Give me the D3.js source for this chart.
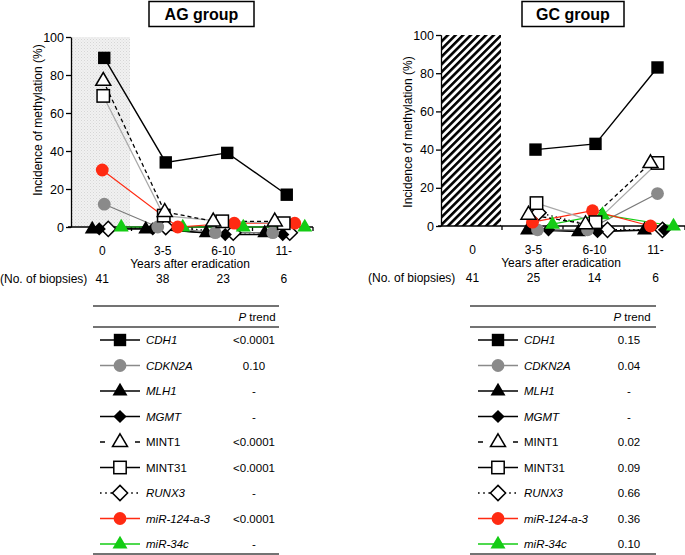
<!DOCTYPE html>
<html><head><meta charset="utf-8">
<script src="https://cdn.jsdelivr.net/npm/d3@7"></script>
<style>
body{margin:0;background:#fff;}
svg{font-family:"Liberation Sans",Arial,Helvetica,sans-serif;}
</style></head>
<body><svg id="c" width="685" height="555"></svg>
<script>
// ---------- DATA ----------
const categories = ["0", "3-5", "6-10", "11-"];
const biopsiesAG = [41, 38, 23, 6];
const biopsiesGC = [41, 25, 14, 6];
const yTicks = [0, 20, 40, 60, 80, 100];
const seriesNames = ["CDH1", "CDKN2A", "MLH1", "MGMT", "MINT1", "MINT31", "RUNX3", "miR-124-a-3", "miR-34c"];

// AG group: incidence of methylation (%) (zeros drawn where they sit)
const agCDH1   = [89, 34, 39, 17];
const agCDKN2A = [12, 0, -3, -3];
const agMLH1   = [-1, -1, -3, -3];
const agMGMT   = [-1, -1, -4, -4];
const agMINT1  = [77, 8, 3, 3];
const agMINT31 = [69, 6, 3, 2];
const agRUNX3  = [-1, 0, -3, -3];
const agMiR124 = [30, 0, 2, 2];
const agMiR34c = [0, 0, 0, 0];

// GC group (no data at year 0)
const gcCDH1   = [null, 40, 43, 83];
const gcCDKN2A = [null, -2, -2, 17];
const gcMLH1   = [null, -2, -3, -2];
const gcMGMT   = [null, -2, -3, -2];
const gcMINT1  = [null, 6, 1, 33];
const gcMINT31 = [null, 12, 2, 33];
const gcRUNX3  = [null, 7, -2, -2];
const gcMiR124 = [null, 2, 8, 0];
const gcMiR34c = [null, 1, 6, 0];

const pTrendAG = ["<0.0001", "0.10", "-", "-", "<0.0001", "<0.0001", "-", "<0.0001", "-"];
const pTrendGC = ["0.15", "0.04", "-", "-", "0.02", "0.09", "0.66", "0.36", "0.10"];

// ---------- STYLES / LAYOUT ----------
const RED = "#ff2a12", GREEN = "#14cc14";
const styles = {
  "CDH1":        {shape:"square",   fill:"#000", stroke:"none", line:"#000", legendLine:"#000", dash:null, lw:1.4, italic:true},
  "CDKN2A":      {shape:"circle",   fill:"#8a8a8a", stroke:"none", line:"#7a7a7a", legendLine:"#8a8a8a", dash:null, lw:1.2, italic:true},
  "MLH1":        {shape:"triangle", fill:"#000", stroke:"none", line:"#000", legendLine:"#000", dash:null, lw:1.2, italic:true},
  "MGMT":        {shape:"diamondS", fill:"#000", stroke:"none", line:"#000", legendLine:"#000", dash:null, lw:1.2, italic:true},
  "MINT1":       {shape:"triangle", fill:"#fff", stroke:"#000", line:"#000", legendLine:"#000", dash:"4,3", legendDash:"5,30", lw:1.3, italic:false},
  "MINT31":      {shape:"square",   fill:"#fff", stroke:"#000", line:"#a8a8a8", legendLine:"#000", dash:null, lw:1.2, italic:false},
  "RUNX3":       {shape:"diamond",  fill:"#fff", stroke:"#000", line:"#000", legendLine:"#000", dash:"1.4,3", legendDash:"1.6,3.6", lw:1.4, italic:true},
  "miR-124-a-3": {shape:"circle",   fill:RED, stroke:"none", line:RED, legendLine:RED, dash:null, lw:1.2, italic:true},
  "miR-34c":     {shape:"triangle", fill:GREEN, stroke:"none", line:GREEN, legendLine:GREEN, dash:null, lw:1.2, italic:true}
};
// horizontal nudges (px) of each series inside a category band, as in the picture
const nudgeAG = {
  "CDH1":[3,4,5,4], "CDKN2A":[3,-4,-7,-10], "MLH1":[-9,-16,-16,-18], "MGMT":[-2,-9,3,0],
  "MINT1":[2,3,-9,-8], "MINT31":[2,2,0,1], "RUNX3":[7,4,11,7], "miR-124-a-3":[1,16,12,12], "miR-34c":[20,21,21,22]
};
const nudgeGC = {
  "CDH1":[0,3,2,3], "CDKN2A":[0,5,-6,3], "MLH1":[0,-5,-15,-10], "MGMT":[0,16,4,10],
  "MINT1":[0,-4,-8,-4], "MINT31":[0,4,2,3], "RUNX3":[0,6,14,8], "miR-124-a-3":[0,0,-1,-4], "miR-34c":[0,20,9,19]
};
const drawOrder = ["RUNX3","MGMT","MLH1","CDKN2A","miR-34c","miR-124-a-3","MINT31","MINT1","CDH1"];

const svg = d3.select("#c");
const defs = svg.append("defs");
// fine light-gray texture
const p1 = defs.append("pattern").attr("id","dots").attr("patternUnits","userSpaceOnUse").attr("width",3).attr("height",3);
p1.append("rect").attr("width",3).attr("height",3).attr("fill","#f1f1f1");
p1.append("rect").attr("x",0).attr("y",0).attr("width",1).attr("height",1).attr("fill","#d6d6d6");
p1.append("rect").attr("x",1.5).attr("y",1.5).attr("width",1).attr("height",1).attr("fill","#dedede");
// diagonal hatch
const p2 = defs.append("pattern").attr("id","hatch").attr("patternUnits","userSpaceOnUse")
  .attr("width",5.4).attr("height",5.4).attr("patternTransform","rotate(45)");
p2.append("rect").attr("width",5.4).attr("height",5.4).attr("fill","#fff");
p2.append("rect").attr("x",0).attr("y",0).attr("width",2.6).attr("height",5.4).attr("fill","#000");

function marker(g, shape, cx, cy, st, scale=1){
  const s = scale;
  let el;
  if (shape === "square") {
    const h = 6.2*s;
    el = g.append("rect").attr("x",cx-h).attr("y",cy-h).attr("width",2*h).attr("height",2*h);
  } else if (shape === "circle") {
    el = g.append("circle").attr("cx",cx).attr("cy",cy).attr("r",6.4*s);
  } else if (shape === "triangle") {
    const w = 7.5*s, top = 8.2*s, bot = 4.6*s;
    el = g.append("path").attr("d",`M${cx},${cy-top}L${cx+w},${cy+bot}L${cx-w},${cy+bot}Z`);
  } else {
    const r = (shape === "diamond" ? 7.6 : 6.6)*s;
    el = g.append("path").attr("d",`M${cx},${cy-r}L${cx+r},${cy}L${cx},${cy+r}L${cx-r},${cy}Z`);
  }
  el.attr("fill",st.fill).attr("stroke",st.stroke).attr("stroke-width",st.stroke==="none"?0:1.5)
    .attr("stroke-linejoin","miter");
}

function panel(cfg){
  const g = svg.append("g");
  const x = d3.scaleBand().domain(categories).range([cfg.x0, cfg.x1]).paddingInner(0).paddingOuter(0);
  const y = d3.scaleLinear().domain([0,100]).range([cfg.yBot, cfg.yTop]);
  const cx = c => x(c) + x.bandwidth()/2;

  // first band shading
  g.append("rect").attr("x",x("0")).attr("y",cfg.yTop).attr("width",cfg.shadeW).attr("height",cfg.yBot-cfg.yTop)
    .attr("fill",cfg.fill);

  // y axis
  const ya = g.append("g").attr("transform",`translate(${cfg.x0},0)`)
    .call(d3.axisLeft(y).tickValues(yTicks).tickSize(5).tickSizeOuter(0).tickPadding(2));
  ya.select(".domain").attr("stroke","#000").attr("stroke-width",1.3);
  ya.selectAll(".tick line").attr("stroke","#000").attr("stroke-width",1.3);
  ya.selectAll("text").attr("font-size",12.5).attr("fill","#000").attr("font-family","Liberation Sans, Arial, sans-serif");

  // x axis (labels) + band boundary ticks
  const xa = g.append("g").attr("transform",`translate(0,${cfg.yBot})`)
    .call(d3.axisBottom(x).tickSize(0).tickPadding(19));
  xa.select(".domain").remove();
  xa.selectAll("text").attr("font-size",12).attr("fill","#000").attr("font-family","Liberation Sans, Arial, sans-serif")
    .attr("dx", 1);
  g.append("line").attr("x1",cfg.x0-3).attr("x2",cfg.x1).attr("y1",cfg.yBot).attr("y2",cfg.yBot)
    .attr("stroke","#000").attr("stroke-width",1.3);
  g.selectAll(".bt").data(categories).enter().append("line")
    .attr("x1",c=>x(c)+x.bandwidth()).attr("x2",c=>x(c)+x.bandwidth())
    .attr("y1",cfg.yBot).attr("y2",cfg.yBot+4).attr("stroke","#000").attr("stroke-width",1.3);

  // axis titles
  g.append("text").attr("transform",`translate(${cfg.yLabelX},${cfg.yLabelY}) rotate(-90)`)
    .attr("text-anchor","middle").attr("font-size",12).text("Incidence of methylation (%)");
  g.append("text").attr("x",(cfg.x0+cfg.x1)/2 - 2).attr("y",cfg.yBot+41).attr("text-anchor","middle")
    .attr("font-size",12).text("Years after eradication");
  // biopsy counts
  g.append("text").attr("x",cfg.nbX).attr("y",cfg.yBot+56).attr("font-size",12).text("(No. of biopsies)");
  g.selectAll(".nb").data(cfg.biopsies).enter().append("text")
    .attr("x",(d,i)=>cx(categories[i])+1).attr("y",cfg.yBot+56).attr("text-anchor","middle")
    .attr("font-size",12).text(d=>d);

  // title box
  g.append("rect").attr("x",cfg.titleX).attr("y",1.5).attr("width",cfg.titleW).attr("height",25)
    .attr("fill","#fff").attr("stroke","#000").attr("stroke-width",1.5);
  g.append("text").attr("x",cfg.titleX+cfg.titleW/2).attr("y",20).attr("text-anchor","middle")
    .attr("font-size",16).attr("font-weight","bold").text(cfg.title);

  // series lines
  const pts = name => cfg.data[name].map((v,i)=>({v, x: cx(categories[i]) + cfg.nudge[name][i]}));
  const line = d3.line().defined(d=>d.v!==null).x(d=>d.x).y(d=>y(d.v));
  drawOrder.forEach(name=>{
    const st = styles[name];
    g.append("path").attr("d",line(pts(name))).attr("fill","none").attr("stroke",st.line)
      .attr("stroke-width",st.lw).attr("stroke-dasharray",st.dash);
  });
  drawOrder.forEach(name=>{
    const st = styles[name];
    pts(name).filter(d=>d.v!==null).forEach(d=>marker(g, st.shape, d.x, y(d.v), st));
  });

  // legend table
  const t = svg.append("g");
  const rowY = i => cfg.tblTop + 34 + i*25.5;
  t.append("line").attr("x1",cfg.tx0).attr("x2",cfg.tx1).attr("y1",cfg.tblTop).attr("y2",cfg.tblTop).attr("stroke","#444").attr("stroke-width",1.4);
  t.append("line").attr("x1",cfg.tx0).attr("x2",cfg.tx1).attr("y1",cfg.tblTop+21).attr("y2",cfg.tblTop+21).attr("stroke","#444").attr("stroke-width",1.4);
  t.append("line").attr("x1",cfg.tx0).attr("x2",cfg.tx1).attr("y1",554).attr("y2",554).attr("stroke","#444").attr("stroke-width",1.4);
  const hdr = t.append("text").attr("x",cfg.pX).attr("y",cfg.tblTop+15).attr("text-anchor","middle").attr("font-size",11.5);
  hdr.append("tspan").attr("font-style","italic").text("P");
  hdr.append("tspan").text(" trend");
  seriesNames.forEach((name,i)=>{
    const st = styles[name], yy = rowY(i);
    t.append("line").attr("x1",cfg.lx-20).attr("x2",cfg.lx+20).attr("y1",yy).attr("y2",yy)
      .attr("stroke",st.legendLine).attr("stroke-width",1.5).attr("stroke-dasharray",st.legendDash||null);
    marker(t, st.shape, cfg.lx, yy, st, 1);
    t.append("text").attr("x",cfg.lx+26).attr("y",yy+4).attr("font-size",11.5)
      .attr("font-style",st.italic?"italic":"normal").text(name);
    t.append("text").attr("x",cfg.pX-3).attr("y",yy+4).attr("text-anchor","middle")
      .attr("font-size",11.5).text(cfg.pv[i]);
  });
}

panel({
  x0:71, x1:313, yTop:37, yBot:227, shadeW:59, fill:"url(#dots)",
  yLabelX:42, yLabelY:120, nbX:0, biopsies:biopsiesAG,
  titleX:149, titleW:105, title:"AG group",
  data:{"CDH1":agCDH1,"CDKN2A":agCDKN2A,"MLH1":agMLH1,"MGMT":agMGMT,"MINT1":agMINT1,"MINT31":agMINT31,"RUNX3":agRUNX3,"miR-124-a-3":agMiR124,"miR-34c":agMiR34c},
  nudge:nudgeAG,
  tblTop:306, tx0:93, tx1:279, lx:120, pX:257, pv:pTrendAG
});
panel({
  x0:441, x1:685, yTop:35, yBot:226, shadeW:60, fill:"url(#hatch)",
  yLabelX:412, yLabelY:132, nbX:368, biopsies:biopsiesGC,
  titleX:522, titleW:102, title:"GC group",
  data:{"CDH1":gcCDH1,"CDKN2A":gcCDKN2A,"MLH1":gcMLH1,"MGMT":gcMGMT,"MINT1":gcMINT1,"MINT31":gcMINT31,"RUNX3":gcRUNX3,"miR-124-a-3":gcMiR124,"miR-34c":gcMiR34c},
  nudge:nudgeGC,
  tblTop:306, tx0:470, tx1:656, lx:498, pX:632, pv:pTrendGC
});
</script></body></html>
